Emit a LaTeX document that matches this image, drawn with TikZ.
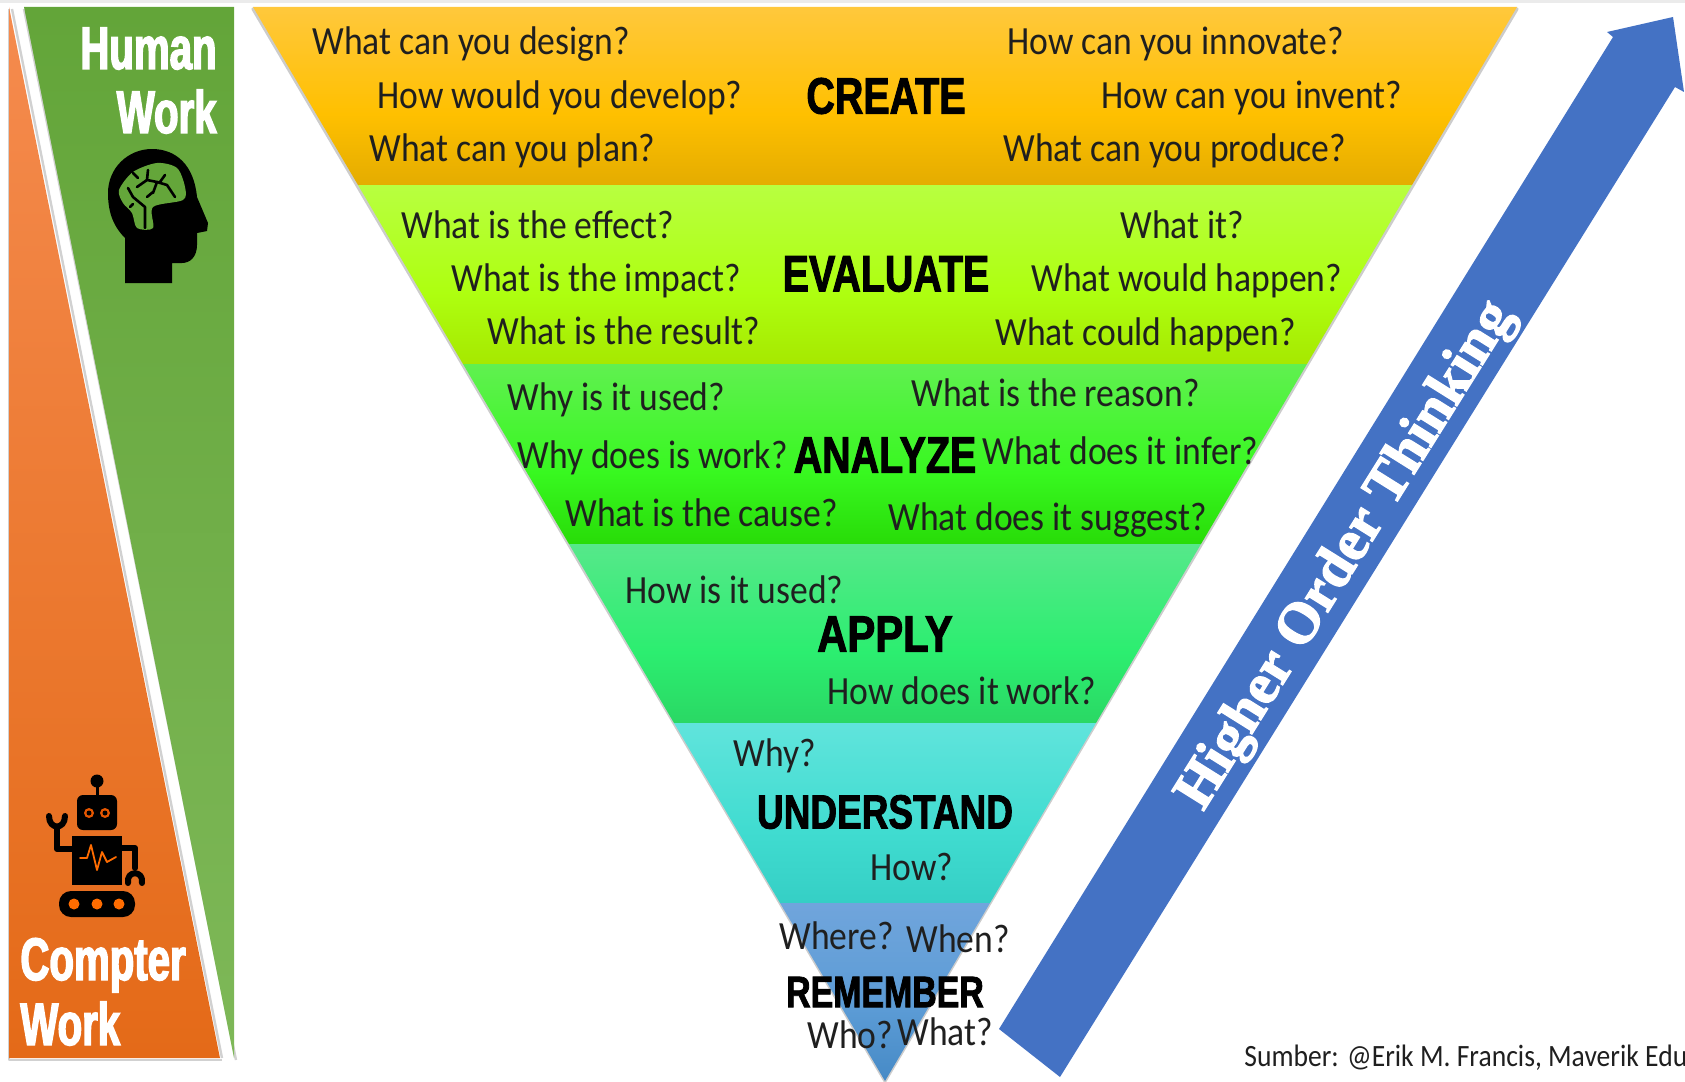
\documentclass[tikz,border=0pt]{standalone}
\usepackage{fontspec}
\setmainfont[FakeStretch=0.89]{Carlito}
\newfontfamily\headfont[FakeStretch=0.77,BoldFeatures={FakeBold=1.8}]{Liberation Sans}
\newfontfamily\bigfont[FakeStretch=0.67,BoldFeatures={FakeBold=2.4}]{Liberation Sans}
\newfontfamily\archfont[BoldFeatures={FakeBold=2.2}]{Liberation Serif}
\usetikzlibrary{positioning}

\newcommand{\bandshading}[4]{%
  \definecolor{#1top}{HTML}{#2}\definecolor{#1mid}{HTML}{#3}\definecolor{#1low}{HTML}{#4}%
  \pgfdeclareverticalshading{#1}{100bp}{color(0bp)=(#1low); color(25bp)=(#1low);
    color(45bp)=(#1mid); color(75bp)=(#1top); color(100bp)=(#1top)}}
\bandshading{createband}{FFC83C}{FFC000}{E4AC00}
\bandshading{evaluateband}{B8FF40}{AEFF10}{A6E800}
\bandshading{analyzeband}{60F050}{38F820}{28DC08}
\bandshading{applyband}{56E88A}{2CEE70}{2AD864}
\bandshading{understandband}{60E4DC}{40DCD0}{35CFC5}
\bandshading{rememberband}{70A5DC}{5B9BD5}{468AC6}

\begin{document}
\begin{tikzpicture}[x=0.5pt,y=-0.5pt,
        ask/.style={anchor=west,inner sep=0pt,text=black!88,font=\fontsize{20}{22}\selectfont},
        title/.style={inner sep=0pt,text=black,font=\fontsize{25.6}{27}\headfont\bfseries},
        side/.style={inner sep=0pt,text=white,font=\fontsize{30}{32}\bigfont\bfseries},
        line/.style={line width=#1,line cap=round,line join=round},
        rim/.style={black!18,line width=1.2pt,line join=round}]

        \useasboundingbox (0,0) rectangle (1685,1081);
        \fill[black!8] (0,0) rectangle (1685,3);

        % left wedges
        \draw[rim] (24,9) -- (236,1060);
        \draw[rim] (222,1060) -- (9,1060) -- (9,9);
        \draw[rim] (12,9) -- (222,1058);
        \shade[top color={rgb,255:red,99;green,165;blue,57},
               middle color={rgb,255:red,104;green,170;blue,62},bottom color={rgb,255:red,126;green,184;blue,88}]
            (24,7) -- (234,7) -- (234,1058) -- cycle;
        \shade[top color={rgb,255:red,245;green,139;blue,78},middle color={rgb,255:red,241;green,122;blue,38},
               bottom color={rgb,255:red,228;green,106;blue,24}]
            (9,7) -- (220,1058) -- (9,1058) -- cycle;

        \node[side,anchor=base east] (human) at (217,69) {Human};
        \node[side,anchor=base east] (hwork) at (217,133) {Work};
        \node[side,anchor=base west] (compter) at (20,980) {Compter};
        \node[side,anchor=base west] (cwork) at (20,1045) {Work};

        % head
        \fill[black] (125,283) -- (125,238) .. controls (112,225) and (108,210) .. (108,193)
            .. controls (108,168) and (128,149) .. (152,149) .. controls (176,149) and (194,165) .. (197,197)
            -- (208,223) -- (207,231) -- (197,233) -- (197,245) .. controls (197,257) and (190,263) .. (182,263)
            -- (172,263) -- (172,283) -- cycle;
        \fill[fill={rgb,255:red,100;green,166;blue,58}] plot[smooth cycle,tension=0.5] coordinates
            {(119,190) (133,172) (157,163) (177,168) (185,187) (183,200) (153,207) (153,228) (137,228) (132,213) (123,203)};
        \draw[line=1.3pt] (145,228) -- (145,207) -- (133,197) -- (128,188);
        \draw[line=1.3pt] (133,204) -- (130,207);
        \draw[line=1.3pt] (137,187) -- (147,180) -- (157,182) -- (167,185) -- (175,197);
        \draw[line=1.3pt] (148,170) -- (147,180);
        \draw[line=1.3pt] (133,173) -- (138,178);
        \draw[line=1.3pt] (165,175) -- (160,182);
        \draw[line=1.3pt] (153,193) -- (157,182);
        \draw[line=1.3pt] (147,197) -- (153,192);

        % robot
        \fill[black] (97,781) circle (6.5);
        \draw[line=1.5pt] (97,785) -- (97,797);
        \fill[black,rounded corners=3pt] (77,795) rectangle (117,830);
        \foreach \eyex in {89,105} {
            \fill[orange!75!red!90!black] (\eyex,813) circle (5);
            \fill[black] (\eyex,813) circle (2.5);
        }
        \fill[black] (72,836) rectangle (122,885);
        \draw[orange!85!red,line=0.9pt] (80,858) -- (87,858) -- (91,845) -- (97,870) -- (102,852) -- (107,862) -- (116,857);
        \draw[line=3pt] (72,849) -- (57,849) -- (57,828);
        \draw[line=3pt] (49,816) .. controls (49,830) and (65,830) .. (65,816);
        \draw[line=3pt] (122,848) -- (135,848) -- (135,868);
        \draw[line=3pt] (128,883) .. controls (126,870) and (144,870) .. (142,883);
        \fill[black,rounded corners=6pt] (59,891) rectangle (135,917);
        \foreach \wheelx in {74,97,119}
            \fill[orange!85!red] (\wheelx,904) circle (5.5);

        % pyramid
        \draw[black!20,line width=1.6pt,line join=round] (253,9) -- (1517,9) -- (885,1081) -- cycle;
        \shade[shading=createband] (253,7) -- (1517,7) -- (1412,185) -- (358,185) -- cycle;
        \shade[shading=evaluateband] (358,185) -- (1412,185) -- (1307,364) -- (463,364) -- cycle;
        \shade[shading=analyzeband] (463,364) -- (1307,364) -- (1201,544) -- (569,544) -- cycle;
        \shade[shading=applyband] (569,544) -- (1201,544) -- (1096,723) -- (674,723) -- cycle;
        \shade[shading=understandband] (674,723) -- (1096,723) -- (990,903) -- (780,903) -- cycle;
        \shade[shading=rememberband] (780,903) -- (990,903) -- (885,1081) -- cycle;

        \node[title] (create) at (886,96) {CREATE};
        \node[ask] (design) at (312,44) {What can you design?};
        \node[ask] (develop) at (377,98) {How would you develop?};
        \node[ask] (plan) at (369,151) {What can you plan?};
        \node[ask] (innovate) at (1007,44) {How can you innovate?};
        \node[ask] (invent) at (1101,98) {How can you invent?};
        \node[ask] (produce) at (1003,151) {What can you produce?};

        \node[title] (evaluate) at (886,274) {EVALUATE};
        \node[ask] (effect) at (401,225) {What is the effect?};
        \node[ask] (impact) at (451,281) {What is the impact?};
        \node[ask] (result) at (487,331) {What is the result?};
        \node[ask] (whatit) at (1120,225) {What it?};
        \node[ask] (would) at (1031,281) {What would happen?};
        \node[ask] (could) at (995,335) {What could happen?};

        \node[title] (analyze) at (885,455) {ANALYZE};
        \node[ask] (used) at (507,400) {Why is it used?};
        \node[ask] (work) at (517,458) {Why does is work?};
        \node[ask] (cause) at (565,513) {What is the cause?};
        \node[ask] (reason) at (911,393) {What is the reason?};
        \node[ask] (infer) at (982,451) {What does it infer?};
        \node[ask] (suggest) at (888,520) {What does it suggest?};

        \node[title] (apply) at (885,634) {\scalebox{1.06}[1]{APPLY}};
        \node[ask] (howused) at (625,590) {How is it used?};
        \node[ask] (howwork) at (827,691) {How does it work?};

        \node[title,font=\fontsize{24}{26}\headfont\bfseries] (understand) at (885,812) {UNDERSTAND};
        \node[ask] (why) at (733,756) {Why?};
        \node[ask] (how) at (870,867) {How?};

        \node[title,font=\fontsize{22}{24}\headfont\bfseries] (remember) at (885,992) {REMEMBER};
        \node[ask] (where) at (779,936) {Where?};
        \node[ask] (when) at (906,939) {When?};
        \node[ask] (who) at (807,1035) {Who?};
        \node[ask] (what) at (897,1032) {What?};

        % arrow
        \fill[fill={rgb,255:red,68;green,114;blue,196}] (999,1029) -- (1613,37) -- (1607,32) -- (1673,17)
            -- (1684,92) -- (1675,87) -- (1060,1077) -- cycle;
        \node[inner sep=0pt,rotate=58,text=white,font=\fontsize{29}{31}\archfont\bfseries] (higher) at (1347,556) {Higher Order Thinking};

        \node[anchor=west,inner sep=0pt,text=black!88,font=\fontsize{15.5}{17}\selectfont] (source) at (1244,1058) {Sumber: @Erik M. Francis, Maverik Edu};
      \end{tikzpicture}
\end{document}
